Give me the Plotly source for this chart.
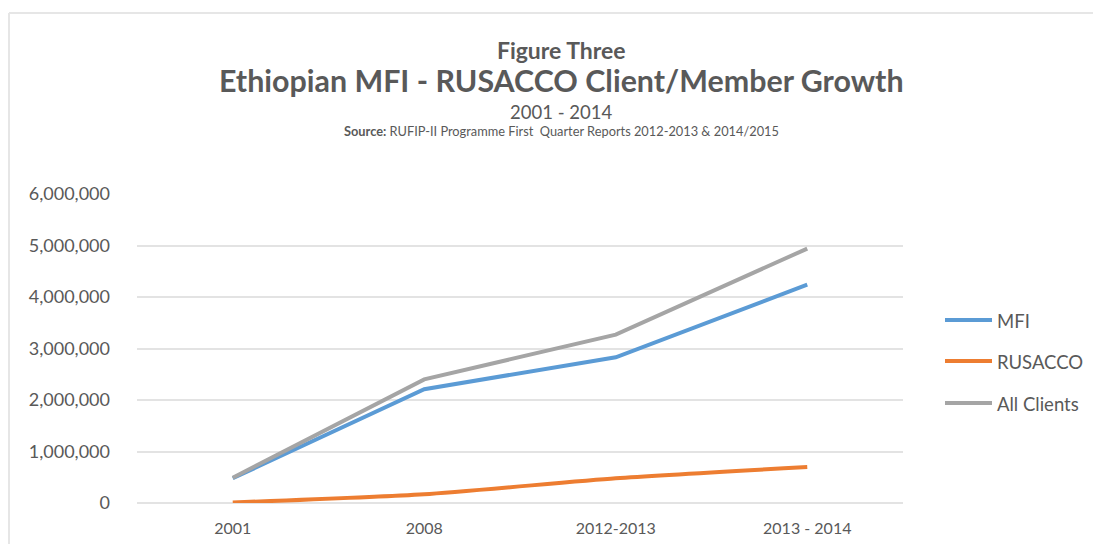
import plotly.graph_objects as go

categories = ["2001", "2008", "2012-2013", "2013 - 2014"]
mfi = [480000, 2210000, 2830000, 4240000]
rusacco = [10000, 170000, 480000, 700000]
all_clients = [490000, 2400000, 3270000, 4940000]
y_ticks = [0, 1000000, 2000000, 3000000, 4000000, 5000000, 6000000]
y_tick_labels = ["0", "1,000,000", "2,000,000", "3,000,000", "4,000,000", "5,000,000", "6,000,000"]
series_names = ["MFI", "RUSACCO", "All Clients"]
series_values = [mfi, rusacco, all_clients]
series_colors = ["#5B9BD5", "#ED7D31", "#A5A5A5"]
series_shapes = ["linear", "spline", "linear"]

FONT = "Lato"
TXT = "#595959"
OFF = 8  # page body margin

fig = go.Figure()
for name, vals, col, shape in zip(series_names, series_values, series_colors, series_shapes):
    fig.add_trace(go.Scatter(x=categories, y=vals, name=name, mode="lines",
                             line=dict(color=col, width=4, shape=shape, smoothing=0.6),
                             showlegend=False))

W, H = 1101 - OFF, 544 - OFF
L, R, T, B = 137 - OFF, 1101 - 903, 194 - OFF, 544 - 503
pw = W - L - R
ph = H - T - B


def px(x):
    return (x - OFF - L) / pw


def py(y):
    return (H - B - (y - OFF)) / ph


shapes = [
    dict(type="line", xref="paper", yref="paper", x0=px(9), x1=px(9),
         y0=py(13), y1=py(560), line=dict(color="#e6e6e6", width=2)),
    dict(type="line", xref="paper", yref="paper", x0=px(9), x1=px(1120),
         y0=py(13), y1=py(13), line=dict(color="#e6e6e6", width=2)),
]
annotations = [
    dict(text=("<span style='font-size:23px'><b>Figure Three</b></span><br>"
               "<span style='font-size:30.4px'><b>Ethiopian MFI - RUSACCO Client/Member Growth</b></span>"),
         x=px(561), y=py(67), xref="paper", yref="paper", showarrow=False,
         font=dict(size=25.4, color=TXT, family=FONT), yanchor="middle", align="center"),
    dict(text="2001 - 2014", x=px(561), y=py(112), xref="paper", yref="paper",
         showarrow=False, font=dict(size=18.5, color=TXT, family=FONT), yanchor="middle"),
    dict(text="<b>Source:</b> RUFIP-II Programme First  Quarter Reports 2012-2013 &amp; 2014/2015",
         x=px(561), y=py(131), xref="paper", yref="paper", showarrow=False,
         font=dict(size=12.8, color=TXT, family=FONT), yanchor="middle"),
]

legend_y = [320, 361, 403]
for name, col, ly in zip(series_names, series_colors, legend_y):
    shapes.append(dict(type="line", xref="paper", yref="paper", x0=px(945), x1=px(992),
                       y0=py(ly), y1=py(ly), line=dict(color=col, width=4)))
    annotations.append(dict(text=name, x=px(995), y=py(ly + 1), xref="paper", yref="paper",
                            xanchor="left", yanchor="middle", showarrow=False,
                            font=dict(size=18.5, color=TXT, family=FONT)))

fig.update_layout(
    width=W, height=H,
    margin=dict(l=L, r=R, t=T, b=B, autoexpand=False),
    paper_bgcolor="white", plot_bgcolor="white",
    font=dict(family=FONT, color=TXT),
    showlegend=False,
    xaxis=dict(type="category", range=[-0.5, 3.5], showgrid=False, showline=False,
               zeroline=False, ticks="", tickfont=dict(size=16, color=TXT),
               ticklabelstandoff=14, automargin=False),
    yaxis=dict(range=[0, 6000000], tickvals=y_ticks, ticktext=y_tick_labels,
               showgrid=True, gridcolor="#e3e3e3", gridwidth=1.5, zeroline=True,
               zerolinecolor="#e3e3e3", zerolinewidth=1.5, showline=False,
               tickfont=dict(size=18, color=TXT), ticklabelstandoff=26, automargin=False),
    shapes=shapes,
    annotations=annotations,
)

fig.write_html("out.html")
